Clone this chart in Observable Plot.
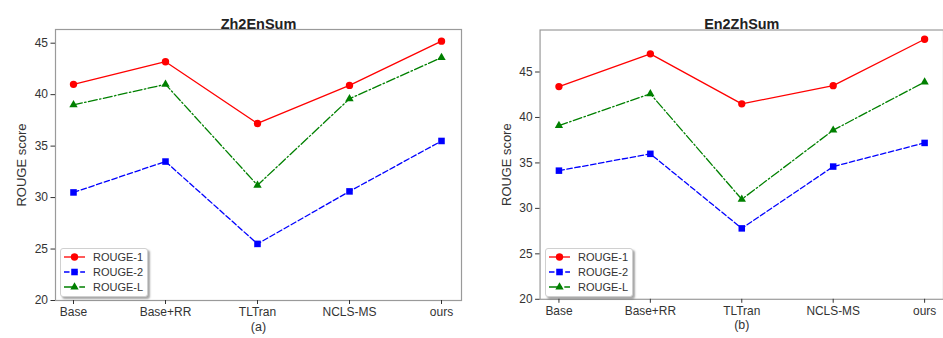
<!DOCTYPE html>
<html>
<head>
<meta charset="utf-8">
<script src="https://cdn.jsdelivr.net/npm/d3@7"></script>
<script src="https://cdn.jsdelivr.net/npm/@observablehq/plot@0.6"></script>
<style>
  html, body { margin: 0; padding: 0; background: #fff; }
  body { width: 943px; height: 338px; overflow: hidden; position: relative; font-family: "Liberation Sans", Arial, sans-serif; }
  .panel { position: absolute; top: 0; }
  .legend { position: absolute; background: #fff; border: 1px solid #d0d0d0; border-radius: 3px; box-shadow: 2px 2px 2px rgba(0,0,0,0.35); }
</style>
</head>
<body>
<div id="left" class="panel" style="left:0px;"></div>
<div id="right" class="panel" style="left:470px;"></div>
<script>
// ---- data ----
const methods = ["Base", "Base+RR", "TLTran", "NCLS-MS", "ours"];
const seriesNames = ["ROUGE-1", "ROUGE-2", "ROUGE-L"];
const yTicks = [20, 25, 30, 35, 40, 45];

const zh2enR1 = [41.0, 43.2, 37.2, 40.9, 45.2];
const zh2enR2 = [30.5, 33.5, 25.5, 30.6, 35.5];
const zh2enRL = [39.0, 41.0, 31.2, 39.6, 43.6];

const en2zhR1 = [43.4, 47.0, 41.5, 43.5, 48.6];
const en2zhR2 = [34.15, 36.0, 27.8, 34.6, 37.2];
const en2zhRL = [39.1, 42.6, 31.0, 38.6, 43.9];

// ---- styles ----
const styles = {
  "ROUGE-1": {color: "#ff0000", dash: null, symbol: "circle", r: 3.7},
  "ROUGE-2": {color: "#0000ff", dash: "5.5,2.6", symbol: "square", r: 3.7},
  "ROUGE-L": {color: "#008000", dash: "9,2.4,1.5,2.4", symbol: "triangle", r: 3.1}
};

function rows(r1, r2, rl) {
  const out = [];
  [r1, r2, rl].forEach((vals, si) => {
    vals.forEach((v, i) => out.push({method: methods[i], series: seriesNames[si], value: v}));
  });
  return out;
}

function panel(opts) {
  const data = rows(...opts.values);
  const marks = [Plot.frame({stroke: "#9a9a9a", strokeWidth: 1.2})];
  for (const s of seriesNames) {
    const st = styles[s];
    const d = data.filter(r => r.series === s);
    marks.push(Plot.line(d, {x: "method", y: "value", stroke: st.color, strokeWidth: 1.3, strokeDasharray: st.dash}));
    marks.push(Plot.dot(d, {x: "method", y: "value", fill: st.color, stroke: "none", symbol: () => st.symbol, r: st.r}));
  }
  marks.push(Plot.axisY({ticks: yTicks, tickSize: 4.5, tickPadding: 3, fontSize: 12, label: null, stroke: "#333", fill: "#333"}));
  marks.push(Plot.axisX({tickSize: 4, tickPadding: 3, fontSize: 12, label: null, stroke: "#333", fill: "#333"}));
  marks.push(Plot.text([opts.title], {frameAnchor: "top", dy: -11, fontSize: 14.5, fontWeight: "bold", fill: "#222"}));
  marks.push(Plot.text([opts.caption], {frameAnchor: "bottom", dy: 30, fontSize: 12.5, fill: "#333"}));
  marks.push(Plot.text(["ROUGE score"], {frameAnchor: "left", rotate: -90, textAnchor: "middle", dx: opts.ylabelDx, fontSize: 13, fill: "#333"}));
  return Plot.plot({
    width: opts.width,
    height: 338,
    marginLeft: opts.marginLeft,
    marginRight: opts.marginRight,
    marginTop: opts.marginTop,
    marginBottom: opts.marginBottom,
    style: {fontFamily: "'Liberation Sans', Arial, sans-serif", color: "#333", background: "transparent", overflow: "visible"},
    x: {type: "point", domain: methods, padding: 0, insetLeft: opts.insetL, insetRight: opts.insetR},
    y: {domain: opts.yDomain},
    marks
  });
}

function legend(left, top) {
  const div = document.createElement("div");
  div.className = "legend";
  div.style.left = left + "px";
  div.style.top = top + "px";
  div.style.width = "86px";
  div.style.height = "47px";
  const svg = d3.create("svg").attr("width", 86).attr("height", 47).style("display", "block");
  seriesNames.forEach((s, i) => {
    const st = styles[s];
    const y = 8 + i * 15;
    svg.append("line").attr("x1", 3).attr("x2", 24).attr("y1", y).attr("y2", y)
      .attr("stroke", st.color).attr("stroke-width", 1.3).attr("stroke-dasharray", st.dash);
    const sym = st.symbol === "circle" ? d3.symbolCircle : st.symbol === "square" ? d3.symbolSquare : d3.symbolTriangle;
    svg.append("path").attr("d", d3.symbol(sym, Math.PI * st.r * st.r)()).attr("transform", `translate(13.5,${y})`).attr("fill", st.color);
    svg.append("text").attr("x", 32).attr("y", y).attr("dy", "0.35em").attr("font-size", 11)
      .attr("fill", "#333").attr("font-family", "'Liberation Sans', Arial, sans-serif").text(s);
  });
  div.appendChild(svg.node());
  return div;
}

const leftEl = document.getElementById("left");
leftEl.appendChild(panel({
  values: [zh2enR1, zh2enR2, zh2enRL], title: "Zh2EnSum", caption: "(a)",
  width: 470, marginLeft: 55, marginRight: 9, marginTop: 29, marginBottom: 38,
  insetL: 17.3, insetR: 19, yDomain: [20, 46.33], ylabelDx: -34
}));
document.body.appendChild(legend(60, 248));

const rightEl = document.getElementById("right");
rightEl.appendChild(panel({
  values: [en2zhR1, en2zhR2, en2zhRL], title: "En2ZhSum", caption: "(b)",
  width: 476, marginLeft: 70, marginRight: 0, marginTop: 29.7, marginBottom: 37.3,
  insetL: 18.6, insetR: 18.3, yDomain: [20, 49.62], ylabelDx: -33
}));
document.body.appendChild(legend(545, 248));
</script>
</body>
</html>
